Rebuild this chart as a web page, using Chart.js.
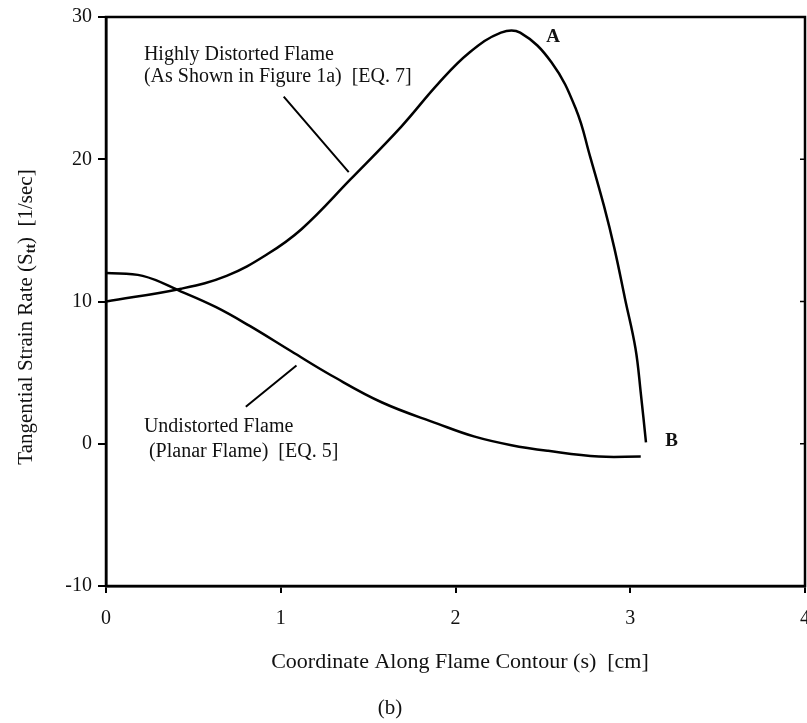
<!DOCTYPE html>
<html>
<head>
<meta charset="utf-8">
<script src="https://cdn.jsdelivr.net/npm/chart.js@4.4.1/dist/chart.umd.min.js"></script>
<style>
  html, body { margin: 0; padding: 0; background: #fff; }
  #wrap { width: 807px; height: 723px; }
</style>
</head>
<body>
<div id="wrap"><canvas id="strainChart" width="807" height="723"></canvas></div>
<script>
// values
const distortedX = [0, 0.43, 0.69, 0.92, 1.12, 1.40, 1.69, 1.90, 2.08, 2.26, 2.37, 2.55, 2.69, 2.77, 2.85, 2.91, 2.97, 3.03, 3.06, 3.09];
const distortedY = [10.0, 10.9, 11.8, 13.3, 15.1, 18.6, 22.3, 25.3, 27.5, 28.9, 28.9, 26.8, 23.5, 20.2, 16.7, 13.7, 10.2, 6.7, 3.6, 0.1];

const planarX = [0, 0.21, 0.43, 0.63, 0.82, 1.06, 1.29, 1.58, 1.90, 2.11, 2.32, 2.53, 2.82, 3.06];
const planarY = [12.0, 11.8, 10.7, 9.6, 8.3, 6.5, 4.8, 2.9, 1.4, 0.5, -0.1, -0.5, -0.9, -0.9];

const xTicks = [0, 1, 2, 3, 4];
const yTicks = [-10, 0, 10, 20, 30];

const SERIF = '"Liberation Serif", "DejaVu Serif", serif';

function toPoints(xs, ys) {
    return xs.map((x, i) => ({ x: x, y: ys[i] }));
}

// frame, captions, leader lines
const decorPlugin = {
    id: 'decor',
    afterDraw(chart) {
        const { ctx, chartArea, scales } = chart;
        const sx = v => scales.x.getPixelForValue(v);
        const sy = v => scales.y.getPixelForValue(v);

        ctx.save();
        ctx.strokeStyle = '#000';
        ctx.lineWidth = 2.5;
        ctx.strokeRect(chartArea.left, chartArea.top, chartArea.right - chartArea.left, chartArea.bottom - chartArea.top);

        // small inner ticks on the right edge
        ctx.lineWidth = 1.5;
        ctx.beginPath();
        yTicks.forEach(v => {
            ctx.moveTo(chartArea.right, sy(v));
            ctx.lineTo(chartArea.right - 5, sy(v));
        });
        ctx.stroke();

        // leader lines
        ctx.lineWidth = 2;
        ctx.beginPath();
        ctx.moveTo(sx(1.017), sy(24.4));
        ctx.lineTo(sx(1.389), sy(19.1));
        ctx.moveTo(sx(0.80), sy(2.6));
        ctx.lineTo(sx(1.09), sy(5.5));
        ctx.stroke();

        ctx.fillStyle = '#111';
        ctx.textBaseline = 'alphabetic';
        ctx.textAlign = 'left';
        ctx.font = '20px ' + SERIF;
        ctx.fillText('Highly Distorted Flame', sx(0.217), sy(27.0));
        ctx.fillText('(As Shown in Figure 1a)  [EQ. 7]', sx(0.217), sy(25.4));

        ctx.textBaseline = 'middle';
        ctx.fillText('Undistorted Flame', sx(0.217), sy(1.2));
        ctx.fillText(' (Planar Flame)  [EQ. 5]', sx(0.217), sy(-0.56));

        ctx.font = 'bold 19px ' + SERIF;
        ctx.fillText('A', sx(2.52), sy(28.6));
        ctx.fillText('B', sx(3.2), sy(0.2));

        // axis titles
        ctx.font = '22px ' + SERIF;
        ctx.textAlign = 'center';
        ctx.fillText('Coordinate Along Flame Contour (s)  [cm]', 460, 662);
        ctx.font = '21px ' + SERIF;
        ctx.fillText('(b)', 390, 708);

        ctx.translate(26, 317);
        ctx.rotate(-Math.PI / 2);
        const partA = 'Tangential Strain Rate (S';
        const partSub = 'tt';
        const partB = ')  [1/sec]';
        ctx.font = '21px ' + SERIF;
        const wA = ctx.measureText(partA).width;
        const wB = ctx.measureText(partB).width;
        ctx.font = 'bold 14px ' + SERIF;
        const wS = ctx.measureText(partSub).width;
        const x0 = -(wA + wS + wB) / 2;
        ctx.textAlign = 'left';
        ctx.font = '21px ' + SERIF;
        ctx.fillText(partA, x0, 0);
        ctx.font = 'bold 14px ' + SERIF;
        ctx.fillText(partSub, x0 + wA, 5);
        ctx.font = '21px ' + SERIF;
        ctx.fillText(partB, x0 + wA + wS, 0);
        ctx.restore();
    }
};

const ctxStrain = document.getElementById('strainChart').getContext('2d');
new Chart(ctxStrain, {
    type: 'line',
    data: {
        datasets: [{
            label: 'Highly Distorted Flame',
            data: toPoints(distortedX, distortedY),
            borderColor: '#000',
            borderWidth: 2.5,
            pointRadius: 0,
            tension: 0.4,
            fill: false
        }, {
            label: 'Undistorted Flame',
            data: toPoints(planarX, planarY),
            borderColor: '#000',
            borderWidth: 2.5,
            pointRadius: 0,
            tension: 0.4,
            fill: false
        }]
    },
    options: {
        responsive: false,
        animation: false,
        layout: { padding: { top: 17, right: 2, left: 0, bottom: 0 } },
        plugins: {
            legend: { display: false },
            tooltip: { enabled: false }
        },
        scales: {
            x: {
                type: 'linear',
                min: 0,
                max: 4,
                afterBuildTicks: axis => { axis.ticks = xTicks.map(v => ({ value: v })); },
                afterFit: axis => {
                    axis.height = 137;
                    axis.paddingLeft = 0;
                    axis.paddingRight = 0;
                },
                grid: { drawOnChartArea: false, tickLength: 7, color: '#000', lineWidth: 2 },
                border: { color: '#000', width: 2.5 },
                ticks: { color: '#111', padding: 14, font: { family: SERIF, size: 20 } }
            },
            y: {
                type: 'linear',
                min: -10,
                max: 30,
                afterBuildTicks: axis => { axis.ticks = yTicks.map(v => ({ value: v })); },
                afterFit: axis => {
                    axis.width = 106;
                    axis.paddingTop = 0;
                    axis.paddingBottom = 0;
                },
                grid: { drawOnChartArea: false, tickLength: 8, color: '#000', lineWidth: 2 },
                border: { color: '#000', width: 2.5 },
                ticks: { color: '#111', padding: 6, font: { family: SERIF, size: 20 } }
            }
        }
    },
    plugins: [decorPlugin]
});
</script>
</body>
</html>
